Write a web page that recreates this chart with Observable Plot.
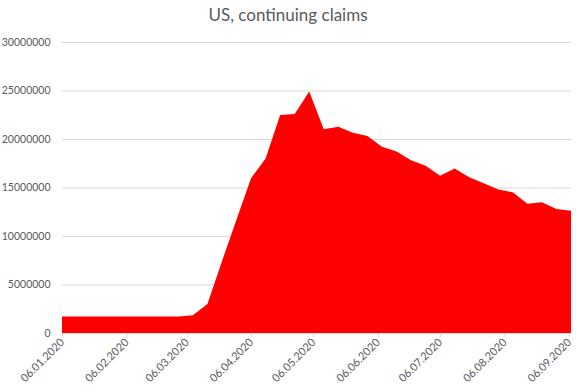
<!DOCTYPE html>
<html>
<head>
<meta charset="utf-8">
<script src="https://cdn.jsdelivr.net/npm/d3@7"></script>
<script src="https://cdn.jsdelivr.net/npm/@observablehq/plot@0.6"></script>
<style>
  body { margin: 0; background: #fff; font-family: Lato, "Open Sans", sans-serif; }
  #title { height: 30px; line-height: 30px; text-align: center; font-size: 17px; color: #595959; width: 576px; }
</style>
</head>
<body>
<div id="title">US, continuing claims</div>
<div id="chart"></div>
<script>
const dates = [
  "2020-01-06","2020-01-13","2020-01-20","2020-01-27","2020-02-03","2020-02-10",
  "2020-02-17","2020-02-24","2020-03-02","2020-03-09","2020-03-16","2020-03-23",
  "2020-03-30","2020-04-06","2020-04-13","2020-04-20","2020-04-27","2020-05-04",
  "2020-05-11","2020-05-18","2020-05-25","2020-06-01","2020-06-08","2020-06-15",
  "2020-06-22","2020-06-29","2020-07-06","2020-07-13","2020-07-20","2020-07-27",
  "2020-08-03","2020-08-10","2020-08-17","2020-08-24","2020-08-31","2020-09-07"
];
const claims = [
  1690000, 1690000, 1690000, 1690000, 1690000, 1690000,
  1690000, 1690000, 1700000, 1820000, 2990000, 7400000,
  11700000, 15950000, 18000000, 22470000, 22580000, 24900000,
  21000000, 21270000, 20650000, 20300000, 19200000, 18700000,
  17800000, 17250000, 16200000, 16970000, 16050000, 15430000,
  14800000, 14500000, 13330000, 13470000, 12780000, 12600000
];
const xTicks = ["2020-01-06","2020-02-06","2020-03-06","2020-04-06","2020-05-06",
  "2020-06-06","2020-07-06","2020-08-06","2020-09-06"];
const yTicks = [0, 5000000, 10000000, 15000000, 20000000, 25000000, 30000000];

const data = dates.map((d, i) => ({date: new Date(d + "T00:00:00Z"), value: claims[i]}));
const fmt = d3.utcFormat("%d.%m.%Y");

const chart = Plot.plot({
  width: 576,
  height: 361,
  marginLeft: 62,
  marginRight: 5,
  marginTop: 12,
  marginBottom: 58,
  style: {fontFamily: "Lato, 'Open Sans', sans-serif", fontSize: "10.5px", color: "#595959", background: "#fff"},
  x: {type: "utc", domain: [new Date("2020-01-06T00:00:00Z"), new Date("2020-09-07T00:00:00Z")]},
  y: {domain: [0, 30000000]},
  marks: [
    Plot.gridY(yTicks, {stroke: "#d9d9d9", strokeOpacity: 1}),
    Plot.areaY(data, {x: "date", y: "value", fill: "#ff0000"}),
    Plot.ruleY([0], {stroke: "#d9d9d9"}),
    Plot.axisY(yTicks, {tickSize: 0, tickPadding: 12, tickFormat: d => String(d), fill: "#595959", label: null}),
    Plot.axisX(xTicks.map(d => new Date(d + "T00:00:00Z")), {
      tickSize: 4, tickRotate: -45, tickPadding: 3, stroke: "#d9d9d9", fill: "#595959",
      tickFormat: fmt, label: null, fontSize: "11px"
    })
  ]
});
document.getElementById("chart").appendChild(chart);
</script>
</body>
</html>
